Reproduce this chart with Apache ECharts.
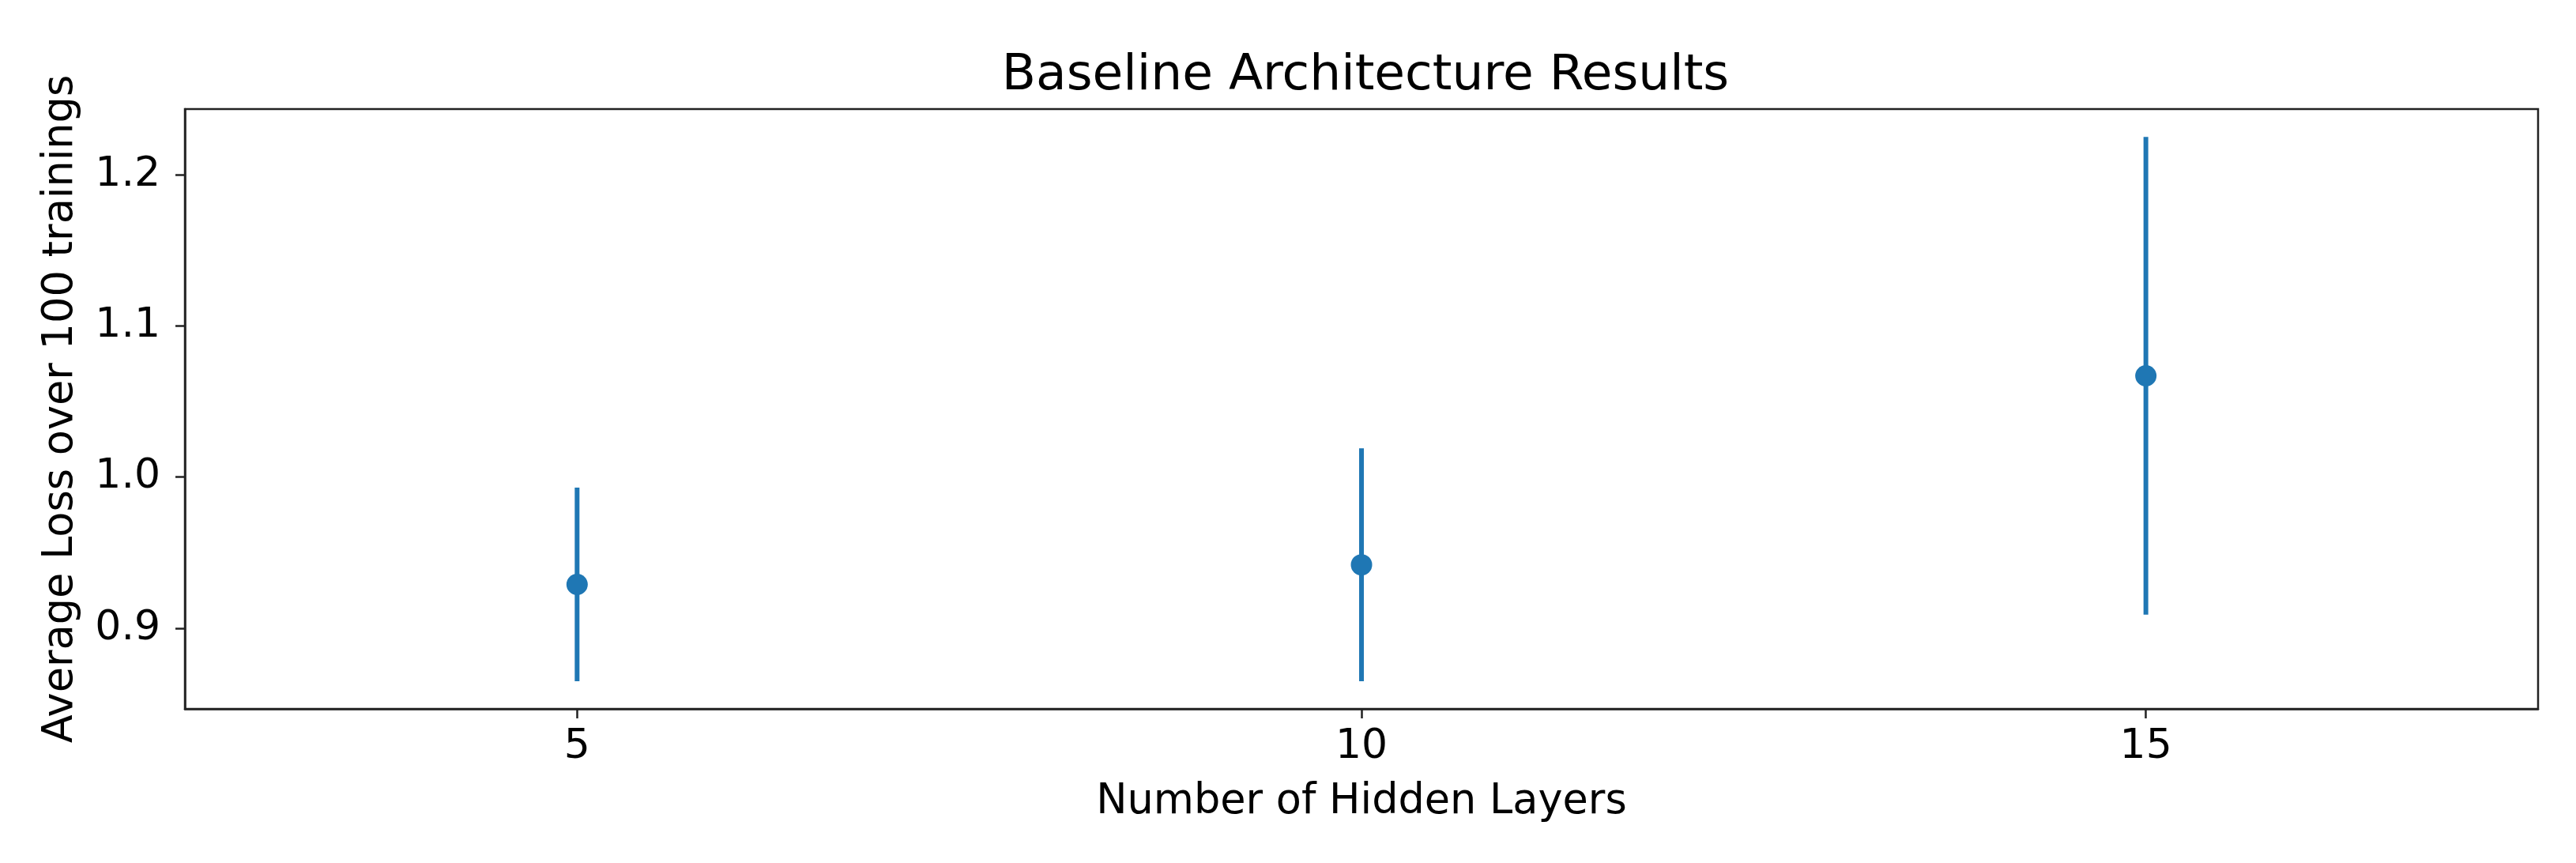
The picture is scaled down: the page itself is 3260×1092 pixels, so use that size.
<!DOCTYPE html>
<html>
<head>
<meta charset="utf-8">
<script src="https://cdn.jsdelivr.net/npm/echarts@6.0.0/dist/echarts.min.js"></script>
<style>
  html, body { margin: 0; padding: 0; background: #fff; }
  #chart { width: 3260px; height: 1092px; }
</style>
</head>
<body>
<div id="chart"></div>
<script>
// hidden layer counts
var layers = [5, 10, 15]
// average loss and its spread
var meanLoss = [0.929, 0.942, 1.067]
var lossErr = [0.064, 0.077, 0.158]
var xTicks = [5, 10, 15]
var yTicks = [0.9, 1.0, 1.1, 1.2]

var blue = '#1f77b4'
var ink = '#222'
var font = 'DejaVu Sans'

var barData = layers.map(function (x, i) {
  return [x, meanLoss[i] - lossErr[i], meanLoss[i] + lossErr[i]]
})
var pointData = layers.map(function (x, i) {
  return [x, meanLoss[i]]
})

var myChart = echarts.init(document.getElementById('chart'))
var option = {
  backgroundColor: '#fff',
  animation: false,
  title: {
    text: 'Baseline Architecture Results',
    left: 1723,
    textAlign: 'center',
    top: 60,
    textStyle: { fontFamily: font, fontSize: 63, fontWeight: 'normal', color: '#000' }
  },
  grid: {
    left: 234, top: 138, right: 48, bottom: 195,
    show: true, borderColor: ink, borderWidth: 2.5, backgroundColor: 'transparent'
  },
  xAxis: {
    type: 'value',
    min: 2.5,
    max: 17.5,
    name: 'Number of Hidden Layers',
    nameLocation: 'middle',
    nameGap: 92,
    nameTextStyle: { fontFamily: font, fontSize: 52.5, color: '#000' },
    splitLine: { show: false },
    axisLine: { show: true, lineStyle: { color: ink, width: 2.5 } },
    axisTick: { show: true, length: 12, lineStyle: { color: ink, width: 2.5 }, customValues: xTicks },
    axisLabel: {
      fontFamily: font, fontSize: 52, color: '#000', margin: 22,
      customValues: xTicks
    }
  },
  yAxis: {
    type: 'value',
    min: 0.8467,
    max: 1.2434,
    name: 'Average Loss over 100 trainings',
    nameLocation: 'middle',
    nameGap: 130,
    nameTextStyle: { fontFamily: font, fontSize: 52.5, color: '#000' },
    splitLine: { show: false },
    axisLine: { show: true, lineStyle: { color: ink, width: 2.5 } },
    axisTick: { show: true, length: 12, lineStyle: { color: ink, width: 2.5 }, customValues: yTicks },
    axisLabel: {
      fontFamily: font, fontSize: 52, color: '#000', margin: 31,
      customValues: yTicks,
      formatter: function (v) { return v.toFixed(1) }
    }
  },
  series: [
    {
      // 误差线
      type: 'custom',
      data: barData,
      z: 2,
      renderItem: function (params, api) {
        var p1 = api.coord([api.value(0), api.value(1)])
        var p2 = api.coord([api.value(0), api.value(2)])
        return {
          type: 'line',
          shape: { x1: p1[0], y1: p1[1], x2: p2[0], y2: p2[1] },
          style: { stroke: blue, lineWidth: 6 }
        }
      }
    },
    {
      type: 'scatter',
      data: pointData,
      z: 3,
      symbol: 'circle',
      symbolSize: 27,
      itemStyle: { color: blue, opacity: 1 }
    }
  ]
}
myChart.setOption(option)
</script>
</body>
</html>
